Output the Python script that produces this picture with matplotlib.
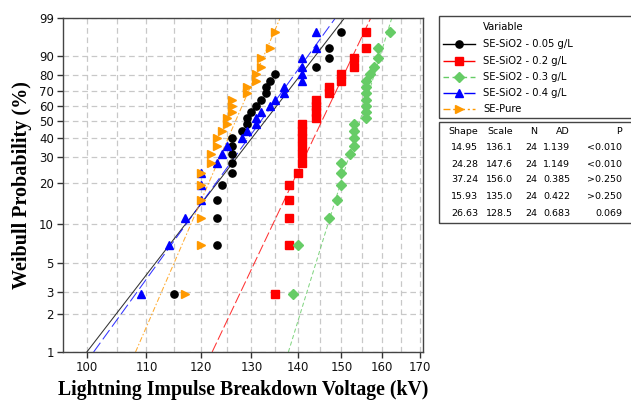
import numpy as np
import matplotlib
matplotlib.use("Agg")
import matplotlib.pyplot as plt
from matplotlib.lines import Line2D
from matplotlib.patches import Rectangle
from matplotlib.ticker import FixedLocator, NullFormatter, FuncFormatter

# Breakdown voltages (kV), 24 shots per sample
sio2_005 = [115, 123, 123, 123, 124, 126, 126, 126, 126, 126, 128, 129,
            129, 130, 131, 132, 133, 133, 134, 135, 144, 147, 147, 150]
sio2_02 = [135, 138, 138, 138, 138, 140, 141, 141, 141, 141, 141, 141,
           144, 144, 144, 144, 147, 147, 150, 150, 153, 153, 156, 156]
sio2_03 = [139, 140, 147, 149, 150, 150, 150, 152, 153, 153, 153, 153,
           156, 156, 156, 156, 156, 156, 156, 157, 158, 159, 159, 162]
sio2_04 = [109, 114, 117, 120, 120, 120, 123, 124, 125, 128, 129, 131,
           131, 132, 134, 135, 137, 137, 141, 141, 141, 141, 144, 144]
se_pure = [117, 120, 120, 120, 120, 120, 122, 122, 123, 123, 124, 125,
           125, 126, 126, 126, 129, 129, 131, 131, 132, 132, 134, 135]

labels = ["SE-SiO2 - 0.05 g/L", "SE-SiO2 - 0.2 g/L", "SE-SiO2 - 0.3 g/L",
          "SE-SiO2 - 0.4 g/L", "SE-Pure"]
shape = [14.95, 24.28, 37.24, 15.93, 26.63]
scale = [136.1, 147.6, 156.0, 135.0, 128.5]
n_obs = [24, 24, 24, 24, 24]
ad = ["1.139", "1.149", "0.385", "0.422", "0.683"]
pval = ["<0.010", "<0.010", ">0.250", ">0.250", "0.069"]

series = [sio2_005, sio2_02, sio2_03, sio2_04, se_pure]
colors = ["#000000", "#ff0000", "#66cc66", "#0000ff", "#ff9900"]
markers = ["o", "s", "D", "^", ">"]
msizes = [5.2, 6.0, 5.4, 6.2, 6.2]
dashes = [None, (10, 3), (4, 2.5), (11, 4), (5, 2, 1.5, 2)]

y_ticks = [1, 2, 3, 5, 10, 20, 30, 40, 50, 60, 70, 80, 90, 99]
x_ticks = [100, 110, 120, 130, 140, 150, 160, 170]
x_grid = list(range(100, 171, 5))


def weib_fwd(p):
    p = np.clip(np.asarray(p, dtype=float), 1e-6, 100 - 1e-6)
    return np.log(-np.log(1 - p / 100.0))


def weib_inv(w):
    return 100.0 * (1 - np.exp(-np.exp(np.asarray(w, dtype=float))))


fig = plt.figure(figsize=(6.31, 4.01), dpi=100)
ax = fig.add_axes([63 / 631, 1 - 352 / 401, 360 / 631, 334 / 401])

ax.set_xscale("log")
ax.set_yscale("function", functions=(weib_fwd, weib_inv))
ax.set_xlim(96.33, 170.8)
ax.set_ylim(1, 99)

# grid
ax.xaxis.set_major_locator(FixedLocator(x_ticks))
ax.xaxis.set_minor_locator(FixedLocator([v for v in x_grid if v not in x_ticks]))
ax.xaxis.set_major_formatter(FuncFormatter(lambda v, _: f"{v:g}"))
ax.xaxis.set_minor_formatter(NullFormatter())
ax.yaxis.set_major_locator(FixedLocator(y_ticks))
ax.yaxis.set_minor_locator(FixedLocator([]))
ax.yaxis.set_major_formatter(FuncFormatter(lambda v, _: f"{v:g}"))
grid_kw = dict(color="#c8c8c8", linewidth=0.9, linestyle=(0, (4.5, 3)))
ax.grid(True, which="major", axis="both", **grid_kw)
ax.grid(True, which="minor", axis="x", **grid_kw)
ax.set_axisbelow(True)

ax.tick_params(axis="both", which="major", length=4, width=1, color="#333333",
               labelsize=8.5, pad=2.5, labelcolor="#111111")
ax.tick_params(axis="x", which="minor", length=0)
for sp in ax.spines.values():
    sp.set_color("#444444")
    sp.set_linewidth(1.0)

# fitted Weibull lines and plotted points (median ranks)
p_line = np.linspace(1, 99, 400)
for vals, c, m, ms, d, k, lam in zip(series, colors, markers, msizes, dashes, shape, scale):
    x_line = lam * (-np.log(1 - p_line / 100.0)) ** (1.0 / k)
    ln, = ax.plot(x_line, p_line, color=c, lw=0.75, alpha=0.8, zorder=2)
    if d is not None:
        ln.set_dashes(d)
    v = np.sort(np.asarray(vals, dtype=float))
    n = len(v)
    ranks = np.arange(1, n + 1)
    p_pts = (ranks - 0.3) / (n + 0.4) * 100.0
    ax.plot(v, p_pts, linestyle="none", marker=m, color=c, markersize=ms,
            markeredgecolor=c, zorder=3)

ax.set_xlabel("Lightning Impulse Breakdown Voltage (kV)", family="Liberation Serif",
              fontweight="bold", fontsize=14.2, labelpad=4)
ax.set_ylabel("Weibull Probability (%)", family="Liberation Serif",
              fontweight="bold", fontsize=14.5, labelpad=5)


def fx(px):
    return px / 631.0


def fy(py):
    return 1 - py / 401.0


# legend panel
fig.add_artist(Rectangle((fx(439), fy(118)), fx(640) - fx(439), fy(16) - fy(118),
                         transform=fig.transFigure, fill=False,
                         edgecolor="#444444", linewidth=1.0))
fig.text(fx(483), fy(27.5), "Variable", fontsize=7.2, va="center", ha="left",
         family="DejaVu Sans")
leg_y = [44.3, 60.7, 77.0, 92.5, 108.5]
for yy, lab, c, m, ms, d in zip(leg_y, labels, colors, markers, msizes, dashes):
    ln = Line2D([fx(443), fx(475)], [fy(yy), fy(yy)], transform=fig.transFigure,
                color=c, lw=1.0)
    if d is not None:
        ln.set_dashes(d)
    fig.add_artist(ln)
    fig.add_artist(Line2D([fx(459)], [fy(yy)], transform=fig.transFigure,
                          marker=m, color=c, markersize=ms, linestyle="none"))
    fig.text(fx(483), fy(yy), lab, fontsize=7.2, va="center", ha="left",
             family="DejaVu Sans")

# parameter table panel
fig.add_artist(Rectangle((fx(439), fy(223)), fx(640) - fx(439), fy(122) - fy(223),
                         transform=fig.transFigure, fill=False,
                         edgecolor="#444444", linewidth=1.0))
col_right = [478, 513, 537, 570, 622]
headers = ["Shape", "Scale", "N", "AD", "P"]
tkw = dict(fontsize=6.8, va="center", ha="right", family="DejaVu Sans")
for xr, h in zip(col_right, headers):
    fig.text(fx(xr), fy(131), h, **tkw)
row_y = [147.5, 164, 180, 196.5, 213]
for yy, k, lam, nn, a, pv in zip(row_y, shape, scale, n_obs, ad, pval):
    cells = [f"{k:.2f}", f"{lam:.1f}", f"{nn}", a, pv]
    for xr, s in zip(col_right, cells):
        fig.text(fx(xr), fy(yy), s, **tkw)

fig.savefig("out.png", dpi=100, facecolor="white")
